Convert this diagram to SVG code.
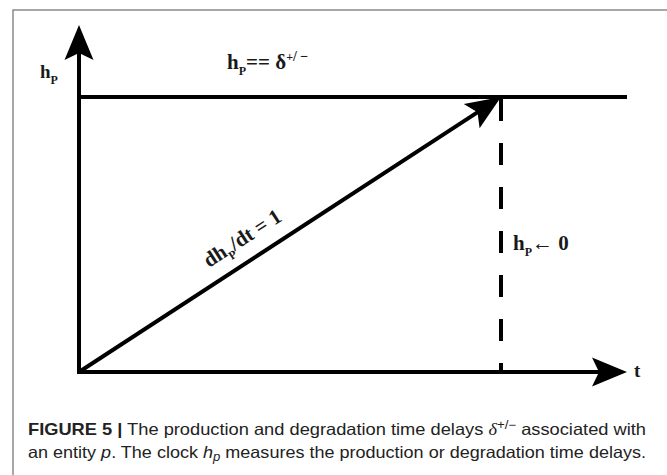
<svg xmlns="http://www.w3.org/2000/svg" width="667" height="475" viewBox="0 0 667 475">
<style>
.ax{stroke:#000;stroke-width:4;fill:none}
.lbl{font-family:"Liberation Serif","Times New Roman",serif;font-weight:bold;fill:#1a1a1a}
.cap{font-family:"Liberation Sans",Arial,sans-serif;font-size:16.5px;fill:#222}
</style>
<defs>
<marker id="ah" markerUnits="userSpaceOnUse" orient="auto" refX="0" refY="0" markerWidth="80" markerHeight="80" overflow="visible">
<path d="M25,0 L-10,-14.5 L-3,0 L-10,14.5 Z" fill="#000"/>
</marker>
</defs>
<rect width="667" height="475" fill="#fff"/>
<path d="M13,475 L13,10 L667,10" stroke="#8a8a8a" stroke-width="1.5" fill="none"/>
<g id="connectors">
<line class="ax" x1="79" y1="374" x2="79" y2="50" marker-end="url(#ah)"/>
<line class="ax" x1="77" y1="372" x2="602" y2="372" marker-end="url(#ah)"/>
<line class="ax" x1="79" y1="97" x2="627" y2="97"/>
<line class="ax" stroke-width="3.5" x1="79" y1="372" x2="480.05" y2="110.65" marker-end="url(#ah)"/>
<line class="ax" stroke-width="3.5" x1="501" y1="99" x2="501" y2="372" stroke-dasharray="22 22"/>
</g>
<g id="axis-y-label"><text class="lbl" x="40" y="78" font-size="19">h<tspan font-size="12" dy="6">P</tspan></text></g>
<g id="axis-t-label"><text class="lbl" x="634" y="377" font-size="19" font-weight="normal">t</text></g>
<g id="threshold-label"><text class="lbl" x="227" y="69" font-size="21">h<tspan font-size="12" dy="6">P</tspan><tspan dy="-6">== δ</tspan><tspan font-size="12" dy="-8">+</tspan><tspan font-size="14" dy="0">/ </tspan><tspan font-size="14">−</tspan></text></g>
<g id="slope-label"><text class="lbl" font-size="21" transform="translate(209,268) rotate(-33)">dh<tspan font-size="12" dy="6">P</tspan><tspan dy="-6">/dt = 1</tspan></text></g>
<g id="reset-label"><text class="lbl" x="513" y="250" font-size="21">h<tspan font-size="12" dy="6">P</tspan><tspan dy="-6">← 0</tspan></text></g>
<g id="caption">
<text class="cap" x="28" y="435" textLength="618" lengthAdjust="spacingAndGlyphs"><tspan font-weight="bold">FIGURE 5 |</tspan> The production and degradation time delays <tspan font-style="italic" font-family="Liberation Serif">δ</tspan><tspan font-size="12" dy="-6">+/−</tspan><tspan dy="6"> associated with</tspan></text>
<text class="cap" x="28" y="458" textLength="618" lengthAdjust="spacingAndGlyphs">an entity <tspan font-style="italic">p</tspan>. The clock <tspan font-style="italic">h</tspan><tspan font-style="italic" font-size="12" dy="3">p</tspan><tspan dy="-3"> measures the production or degradation time delays.</tspan></text>
</g>
</svg>
